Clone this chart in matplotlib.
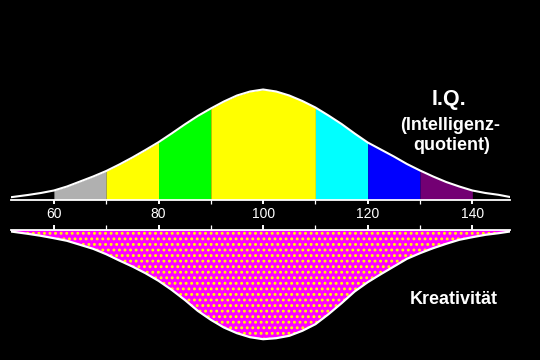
import matplotlib.pyplot as plt
import numpy as np

plt.rcParams['font.family'] = ['Liberation Sans', 'DejaVu Sans']
plt.rcParams['hatch.linewidth'] = 1.3

# IQ axis positions (shared by both curves)
iq = np.array([51.8, 55, 57.5, 60, 62.5, 65, 67.5, 70, 72.5, 75, 77.5, 80,
               82.5, 85, 87.5, 90, 92.5, 95, 97.5, 100,
               102.5, 105, 107.5, 110, 112.5, 115, 117.5, 120, 122.5, 125,
               127.5, 130, 132.5, 135, 137.5, 140, 142.5, 145, 147.2])

# height of the I.Q. bell curve (peak ~110)
iq_height = np.array([2.3, 4.5, 6.5, 9, 13, 18, 23, 28.5, 35, 42, 49.5, 57.3,
                      66, 75, 83.5, 91, 98, 104, 108, 110,
                      108, 104, 98.5, 92, 84, 75.5, 66, 57, 50, 43,
                      35.5, 29, 23, 17.5, 13, 9, 6.5, 4.7, 2.5])

# depth of the creativity curve hanging below the second axis
creat_depth = np.array([2, 4.3, 6.3, 8.7, 11.3, 15.3, 19.3, 24.7, 31, 37, 43.7, 51.3,
                        60.3, 70.3, 81.3, 90.3, 98, 103.7, 107.7, 109.7,
                        108.7, 106.3, 101.3, 94.7, 84.7, 73.7, 62, 52.7, 44.7, 37,
                        29.3, 23.7, 18.7, 14.3, 10.3, 7.7, 5.3, 3.7, 2])

# coloured IQ bands
band_edges = [(60, 70), (70, 80), (80, 90), (90, 110), (110, 120), (120, 130), (130, 140)]
band_colors = ['#b0b0b0', '#ffff00', '#00ff00', '#ffff00', '#00ffff', '#0000ff', '#730073']

major_ticks = [60, 80, 100, 120, 140]
minor_ticks = [70, 90, 110, 130]

W, H = 540, 360
fig = plt.figure(figsize=(5.4, 3.6), dpi=100, facecolor='black')

# top panel: I.Q. distribution
ax1 = fig.add_axes([11 / W, (H - 199.5) / H, 499 / W, 119.5 / H])
ax1.set_facecolor('black')
ax1.set_xlim(iq[0], iq[-1])
ax1.set_ylim(0, 119.5)
for (a, b), c in zip(band_edges, band_colors):
    m = (iq >= a) & (iq <= b)
    ax1.fill_between(iq, 0, iq_height, where=m, color=c, linewidth=0)
ax1.plot(iq, iq_height, color='white', lw=1.5, solid_joinstyle='round')
for s in ['top', 'left', 'right']:
    ax1.spines[s].set_visible(False)
ax1.spines['bottom'].set_color('white')
ax1.spines['bottom'].set_linewidth(1.3)
ax1.set_yticks([])
ax1.set_xticks(major_ticks)
ax1.set_xticks(minor_ticks, minor=True)
ax1.tick_params(axis='x', which='both', colors='white', direction='out',
                length=3, pad=2.5, labelsize=10)
ax1.tick_params(axis='x', which='major', width=1.4)
ax1.tick_params(axis='x', which='minor', width=0.9)

# bottom panel: creativity
ax2 = fig.add_axes([11 / W, (H - 343) / H, 499 / W, (343 - 229.5) / H])
ax2.set_facecolor('black')
ax2.set_xlim(iq[0], iq[-1])
ax2.set_ylim(113.5, 0)
ax2.fill_between(iq, 0, creat_depth, facecolor='#ff00ff', edgecolor='#ffff00',
                 hatch='...', linewidth=0)
ax2.plot(iq, creat_depth, color='white', lw=1.6, solid_joinstyle='round')
for s in ['bottom', 'left', 'right']:
    ax2.spines[s].set_visible(False)
ax2.spines['top'].set_color('white')
ax2.spines['top'].set_linewidth(1.3)
ax2.set_yticks([])
ax2.set_xticks(major_ticks)
ax2.set_xticks(minor_ticks, minor=True)
ax2.xaxis.tick_top()
ax2.tick_params(axis='x', which='both', colors='white', direction='out',
                length=3.5, labeltop=False, labelbottom=False)
ax2.tick_params(axis='x', which='major', width=1.4)
ax2.tick_params(axis='x', which='minor', width=0.9)

# labels
fig.text(449 / W, 1 - 100 / H, 'I.Q.', color='white', fontsize=15.5,
         fontweight='bold', ha='center', va='center')
fig.text(450 / W, 1 - 126 / H, '(Intelligenz-', color='white', fontsize=13,
         fontweight='bold', ha='center', va='center')
fig.text(452 / W, 1 - 146 / H, 'quotient)', color='white', fontsize=13,
         fontweight='bold', ha='center', va='center')
fig.text(454 / W, 1 - 300 / H, 'Kreativität', color='white', fontsize=13,
         fontweight='bold', ha='center', va='center')

fig.savefig('out.png', dpi=100, facecolor='black')
